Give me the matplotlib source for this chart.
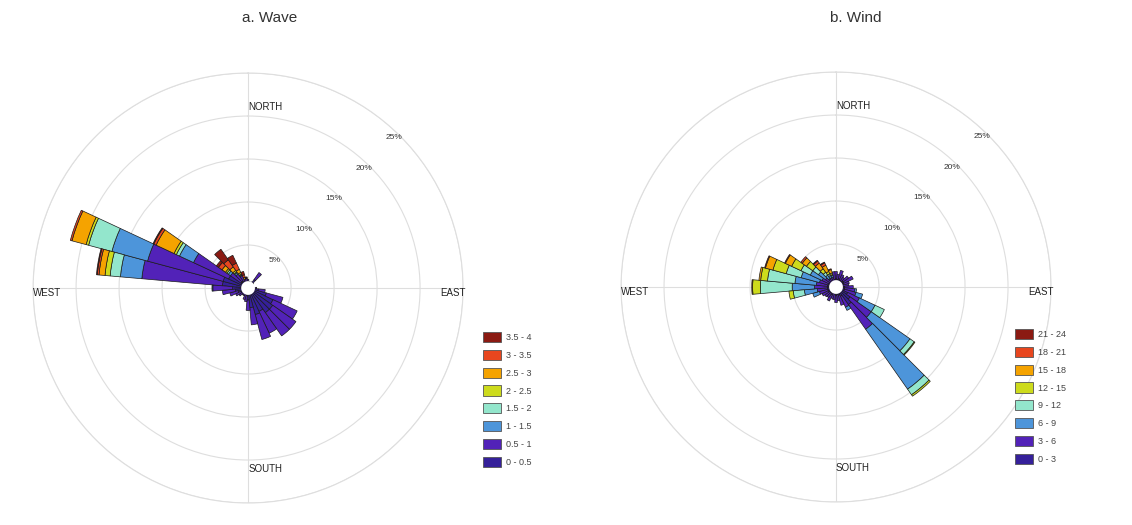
import numpy as np
import matplotlib.pyplot as plt
from matplotlib.patches import Patch

plt.rcParams['font.family'] = ['Liberation Sans', 'DejaVu Sans']

# 36 sectors of 10 degrees, clockwise from north
directions = np.arange(0, 360, 10)

wave_labels = ['0 - 0.5', '0.5 - 1', '1 - 1.5', '1.5 - 2', '2 - 2.5', '2.5 - 3', '3 - 3.5', '3.5 - 4']
wind_labels = ['0 - 3', '3 - 6', '6 - 9', '9 - 12', '12 - 15', '15 - 18', '18 - 21', '21 - 24']
colors = ['#35209a', '#5222b8', '#4d95da', '#93e6cc', '#cddb1c', '#f5a300', '#e8461e', '#8b1a12']

# wave height classes, frequency (%) per sector
#              0    10   20   30   40   50   60   70   80   90   100  110  120  130  140  150  160  170  180  190  200  210  220  230  240  250  260  270  280  290  300  310  320  330  340  350
wave_0_05 = [0.6, 0.5, 0.4, 0.5, 1.2, 0.5, 0.4, 0.3, 0.4, 0.6, 1.2, 2.2, 3.2, 3.5, 3.5, 3.0, 3.2, 2.3, 1.4, 0.9, 0.8, 0.6, 0.6, 0.7, 0.9, 1.2, 1.5, 1.8, 3.0, 3.0, 2.5, 1.0, 1.0, 0.8, 0.6, 0.6]
wave_05_1 = [0.4, 0.3, 0.2, 0.3, 1.0, 0.3, 0.2, 0.2, 0.2, 0.4, 0.8, 2.0, 3.1, 3.3, 3.3, 2.8, 3.0, 2.0, 1.2, 0.7, 0.6, 0.4, 0.4, 0.6, 0.7, 1.0, 1.5, 2.3, 9.4, 9.1, 4.5, 1.5, 1.0, 0.8, 0.5, 0.5]
wave_1_15 = [0.0, 0.0, 0.0, 0.0, 0.0, 0.0, 0.0, 0.0, 0.0, 0.0, 0.0, 0.0, 0.0, 0.0, 0.0, 0.0, 0.0, 0.0, 0.0, 0.0, 0.0, 0.0, 0.0, 0.0, 0.0, 0.0, 0.0, 0.1, 2.5, 4.3, 1.8, 0.3, 0.2, 0.1, 0.0, 0.0]
wave_15_2 = [0.0, 0.0, 0.0, 0.0, 0.0, 0.0, 0.0, 0.0, 0.0, 0.0, 0.0, 0.0, 0.0, 0.0, 0.0, 0.0, 0.0, 0.0, 0.0, 0.0, 0.0, 0.0, 0.0, 0.0, 0.0, 0.0, 0.0, 0.0, 1.2, 2.8, 0.4, 0.2, 0.1, 0.1, 0.0, 0.0]
wave_2_25 = [0.0, 0.0, 0.0, 0.0, 0.0, 0.0, 0.0, 0.0, 0.0, 0.0, 0.0, 0.0, 0.0, 0.0, 0.0, 0.0, 0.0, 0.0, 0.0, 0.0, 0.0, 0.0, 0.0, 0.0, 0.0, 0.0, 0.0, 0.0, 0.6, 0.3, 0.3, 0.2, 0.2, 0.2, 0.0, 0.0]
wave_25_3 = [0.0, 0.0, 0.0, 0.0, 0.0, 0.0, 0.0, 0.0, 0.0, 0.0, 0.0, 0.0, 0.0, 0.0, 0.0, 0.0, 0.0, 0.0, 0.0, 0.0, 0.0, 0.0, 0.0, 0.0, 0.0, 0.0, 0.0, 0.0, 0.7, 1.7, 2.3, 0.5, 0.5, 0.4, 0.2, 0.0]
wave_3_35 = [0.0, 0.0, 0.0, 0.0, 0.0, 0.0, 0.0, 0.0, 0.0, 0.0, 0.0, 0.0, 0.0, 0.0, 0.0, 0.0, 0.0, 0.0, 0.0, 0.0, 0.0, 0.0, 0.0, 0.0, 0.0, 0.0, 0.0, 0.0, 0.2, 0.2, 0.3, 0.5, 1.0, 0.8, 0.3, 0.1]
wave_35_4 = [0.0, 0.0, 0.0, 0.0, 0.0, 0.0, 0.0, 0.0, 0.0, 0.0, 0.0, 0.0, 0.0, 0.0, 0.0, 0.0, 0.0, 0.0, 0.0, 0.0, 0.0, 0.0, 0.0, 0.0, 0.0, 0.0, 0.0, 0.0, 0.1, 0.0, 0.1, 0.3, 1.5, 1.0, 0.4, 0.1]

# wind speed classes, frequency (%) per sector
#              0    10   20   30   40   50   60   70   80   90   100  110  120  130  140  150  160  170  180  190  200  210  220  230  240  250  260  270  280  290  300  310  320  330  340  350
wind_0_3 =   [1.0, 0.9, 1.0, 0.9, 0.8, 1.0, 1.0, 0.9, 0.8, 1.0, 1.0, 1.0, 1.5, 2.0, 2.5, 1.2, 1.0, 0.9, 1.0, 0.8, 0.8, 1.0, 0.8, 0.9, 1.0, 1.0, 1.0, 1.0, 1.0, 0.9, 0.8, 0.7, 0.6, 0.6, 0.6, 0.9]
wind_3_6 =   [0.8, 0.6, 1.0, 0.7, 0.6, 0.8, 1.2, 0.7, 0.7, 1.0, 1.2, 1.4, 1.5, 3.0, 3.5, 1.4, 1.2, 0.7, 0.8, 0.7, 0.6, 0.8, 0.7, 0.7, 0.8, 1.0, 1.2, 1.5, 1.3, 1.1, 1.0, 0.8, 0.6, 0.6, 0.6, 0.9]
wind_6_9 =   [0.0, 0.0, 0.0, 0.0, 0.0, 0.0, 0.0, 0.0, 0.0, 0.0, 0.2, 0.8, 2.0, 5.5, 8.5, 0.4, 0.0, 0.0, 0.0, 0.0, 0.0, 0.0, 0.0, 0.0, 0.0, 0.8, 1.5, 2.6, 2.5, 2.2, 1.5, 1.0, 0.5, 0.3, 0.2, 0.0]
wind_9_12 =  [0.0, 0.0, 0.0, 0.0, 0.0, 0.0, 0.0, 0.0, 0.0, 0.0, 0.0, 0.0, 1.2, 0.6, 0.8, 0.0, 0.0, 0.0, 0.0, 0.0, 0.0, 0.0, 0.0, 0.0, 0.0, 0.0, 1.3, 3.7, 3.2, 1.8, 1.2, 0.8, 0.4, 0.2, 0.1, 0.0]
wind_12_15 = [0.0, 0.0, 0.0, 0.0, 0.0, 0.0, 0.0, 0.0, 0.0, 0.0, 0.0, 0.0, 0.0, 0.1, 0.2, 0.0, 0.0, 0.0, 0.0, 0.0, 0.0, 0.0, 0.0, 0.0, 0.0, 0.0, 0.5, 0.9, 0.8, 1.6, 1.2, 0.9, 0.5, 0.3, 0.2, 0.0]
wind_15_18 = [0.0, 0.0, 0.0, 0.0, 0.0, 0.0, 0.0, 0.0, 0.0, 0.0, 0.0, 0.0, 0.0, 0.0, 0.0, 0.0, 0.0, 0.0, 0.0, 0.0, 0.0, 0.0, 0.0, 0.0, 0.0, 0.0, 0.0, 0.1, 0.2, 0.9, 0.8, 0.6, 0.8, 0.8, 0.4, 0.0]
wind_18_21 = [0.0, 0.0, 0.0, 0.0, 0.0, 0.0, 0.0, 0.0, 0.0, 0.0, 0.0, 0.0, 0.0, 0.0, 0.0, 0.0, 0.0, 0.0, 0.0, 0.0, 0.0, 0.0, 0.0, 0.0, 0.0, 0.0, 0.0, 0.0, 0.0, 0.1, 0.1, 0.2, 0.3, 0.3, 0.1, 0.0]
wind_21_24 = [0.0, 0.0, 0.0, 0.0, 0.0, 0.0, 0.0, 0.0, 0.0, 0.0, 0.0, 0.0, 0.0, 0.0, 0.0, 0.0, 0.0, 0.0, 0.0, 0.0, 0.0, 0.0, 0.0, 0.0, 0.0, 0.0, 0.0, 0.0, 0.0, 0.0, 0.0, 0.0, 0.1, 0.1, 0.0, 0.0]

wave = [wave_0_05, wave_05_1, wave_1_15, wave_15_2, wave_2_25, wave_25_3, wave_3_35, wave_35_4]
wind = [wind_0_3, wind_3_6, wind_6_9, wind_9_12, wind_12_15, wind_15_18, wind_18_21, wind_21_24]

rings = [5, 10, 15, 20, 25]


def draw_rose(ax, freqs):
    theta = np.deg2rad(directions)
    bottom = np.zeros(len(directions))
    for vals, col in zip(freqs, colors):
        vals = np.array(vals)
        m = vals > 0
        ax.bar(theta[m], vals[m], width=np.deg2rad(10), bottom=bottom[m],
               color=col, edgecolor='#1a1a1a', linewidth=0.5, zorder=3)
        bottom += vals
    # white hole in the middle
    ax.bar(0, 0.8, width=2 * np.pi, bottom=0, color='white', edgecolor='none', zorder=4)

    ax.set_theta_zero_location('N')
    ax.set_theta_direction(-1)
    ax.set_ylim(0, 25)
    ax.set_yticks(rings)
    ax.set_yticklabels([])
    ax.set_xticks(np.deg2rad([0, 90, 180, 270]))
    ax.set_xticklabels([])
    ax.grid(color='#dedede', linewidth=0.8)
    ax.spines['polar'].set_color('#dedede')
    ax.spines['polar'].set_linewidth(0.8)
    ax.set_axisbelow(True)

    for r in rings:
        ax.text(np.deg2rad(44), r - 0.6, f'{r}%', fontsize=6, color='#333333',
                ha='center', va='center', zorder=5)

    txt = dict(fontsize=7, color='#222222', zorder=5)
    ax.text(0, 21, 'NORTH', ha='left', va='center', **txt)
    ax.text(np.pi, 21, 'SOUTH', ha='left', va='center', **txt)
    ax.text(1.5 * np.pi, 25, 'WEST', ha='left', va='top', **txt)
    ax.text(0.5 * np.pi, 22.3, 'EAST', ha='left', va='top', **txt)


def add_legend(fig, labels, x, y):
    handles = [Patch(facecolor=c, edgecolor='#555555', linewidth=0.6, label=l)
               for c, l in zip(colors, labels)][::-1]
    fig.legend(handles=handles, loc='upper left', bbox_to_anchor=(x, y),
               frameon=False, fontsize=6.5, handlelength=2.0, handleheight=1.35,
               labelspacing=0.85, handletextpad=0.5, borderpad=0, borderaxespad=0,
               labelcolor='#444444')


fig = plt.figure(figsize=(11.32, 5.25), dpi=100)

ax1 = fig.add_axes([0.0292, 0.0419, 0.3799, 0.819], projection='polar')
draw_rose(ax1, wave)
ax2 = fig.add_axes([0.5486, 0.0438, 0.3799, 0.819], projection='polar')
draw_rose(ax2, wind)

fig.text(270 / 1132, 1 - 18 / 525, 'a. Wave', ha='center', va='center', fontsize=11, color='#333333')
fig.text(856 / 1132, 1 - 18 / 525, 'b. Wind', ha='center', va='center', fontsize=11, color='#333333')

add_legend(fig, wave_labels, 483 / 1132, 1 - 332 / 525)
add_legend(fig, wind_labels, 1015 / 1132, 1 - 329 / 525)

fig.savefig('out.png', dpi=100)
